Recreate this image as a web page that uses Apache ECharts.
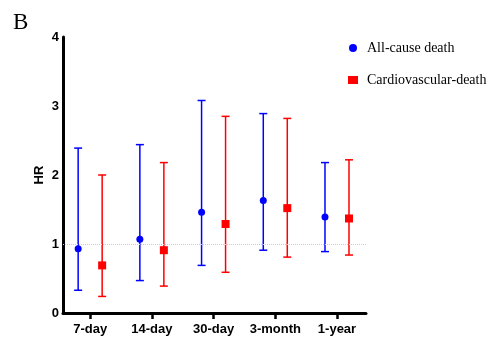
<!DOCTYPE html>
<html>
<head>
<meta charset="utf-8">
<script src="https://cdn.jsdelivr.net/npm/echarts@6/dist/echarts.min.js"></script>
<style>
  html, body { margin: 0; padding: 0; background: #fff; }
  #main { width: 489px; height: 337px; }
</style>
</head>
<body>
<div id="main"></div>
<script>
const categories = ['7-day', '14-day', '30-day', '3-month', '1-year']
const yTicks = [0, 1, 2, 3, 4]

// all-cause death: HR with lower / upper CI
const allHR = [0.93, 1.07, 1.46, 1.63, 1.39]
const allLow = [0.33, 0.47, 0.69, 0.91, 0.89]
const allHigh = [2.39, 2.44, 3.08, 2.89, 2.18]

// cardiovascular death
const cvHR = [0.69, 0.91, 1.29, 1.52, 1.37]
const cvLow = [0.24, 0.39, 0.59, 0.81, 0.84]
const cvHigh = [2.00, 2.18, 2.85, 2.82, 2.22]

const BLUE = '#0000ff'
const RED = '#ff0000'
const OFF = 12
const idx = categories.map((c, i) => i)

function errBars(low, high, color, dx) {
    return {
        type: 'custom',
        silent: true,
        z: 2,
        data: idx.map(i => [i, low[i], high[i]]),
        renderItem: function (params, api) {
            const lo = api.coord([api.value(0), api.value(1)])
            const hi = api.coord([api.value(0), api.value(2)])
            const x = lo[0] + dx
            const w = 4
            const st = { stroke: color, lineWidth: 1.5 }
            return {
                type: 'group',
                children: [
                    { type: 'line', shape: { x1: x, y1: lo[1], x2: x, y2: hi[1] }, style: st },
                    { type: 'line', shape: { x1: x - w, y1: lo[1], x2: x + w, y2: lo[1] }, style: st },
                    { type: 'line', shape: { x1: x - w, y1: hi[1], x2: x + w, y2: hi[1] }, style: st }
                ]
            }
        }
    }
}

const myChart = echarts.init(document.getElementById('main'))
const option = {
    animation: false,
    backgroundColor: '#fff',
    title: {
        text: 'B',
        left: 8,
        top: 6,
        textStyle: { fontFamily: 'Liberation Serif', fontWeight: 'normal', fontSize: 23, color: '#000' }
    },
    legend: {
        orient: 'vertical',
        left: 343,
        top: 36,
        itemGap: 18,
        itemWidth: 10,
        itemHeight: 8,
        data: [
            { name: 'All-cause death', icon: 'circle' },
            { name: 'Cardiovascular-death', icon: 'rect' }
        ],
        textStyle: { fontFamily: 'Liberation Serif', fontSize: 14, color: '#000', padding: [0, 0, 0, 4] }
    },
    grid: { left: 63, top: 37, width: 303, height: 276 },
    xAxis: {
        type: 'value',
        min: -0.44,
        max: 4.47,
        splitLine: { show: false },
        axisLine: { onZero: false, lineStyle: { color: '#000', width: 3 } },
        axisTick: { show: true, length: 6, lineStyle: { color: '#000', width: 2.5 }, customValues: idx },
        axisLabel: {
            customValues: idx,
            formatter: v => categories[Math.round(v)],
            fontFamily: 'Liberation Sans', fontWeight: 'bold', fontSize: 13, color: '#000', margin: 10
        }
    },
    yAxis: {
        type: 'value',
        min: 0,
        max: 4,
        interval: 1,
        name: 'HR',
        nameLocation: 'middle',
        nameGap: 17,
        nameMoveOverlap: false,
        nameTextStyle: { fontFamily: 'Liberation Sans', fontWeight: 'bold', fontSize: 13, color: '#000' },
        splitLine: { show: false },
        axisLine: { show: true, onZero: false, lineStyle: { color: '#000', width: 3 } },
        axisTick: { show: false },
        axisLabel: {
            formatter: v => yTicks.includes(v) ? String(v) : '',
            fontFamily: 'Liberation Sans', fontWeight: 'bold', fontSize: 13, color: '#000', margin: 4
        }
    },
    series: [
        errBars(allLow, allHigh, BLUE, -OFF),
        errBars(cvLow, cvHigh, RED, OFF),
        {
            name: 'All-cause death',
            type: 'scatter',
            symbol: 'circle',
            symbolSize: 7,
            symbolOffset: [-OFF, 0],
            z: 3,
            itemStyle: { color: BLUE, opacity: 1 },
            data: idx.map(i => [i, allHR[i]]),
            markLine: {
                silent: true,
                symbol: 'none',
                label: { show: false },
                lineStyle: { color: '#cccccc', type: 'dotted', width: 1 },
                data: [{ yAxis: 1 }]
            }
        },
        {
            name: 'Cardiovascular-death',
            type: 'scatter',
            symbol: 'rect',
            symbolSize: 8,
            symbolOffset: [OFF, 0],
            z: 3,
            itemStyle: { color: RED, opacity: 1 },
            data: idx.map(i => [i, cvHR[i]])
        }
    ]
}
myChart.setOption(option)
</script>
</body>
</html>
